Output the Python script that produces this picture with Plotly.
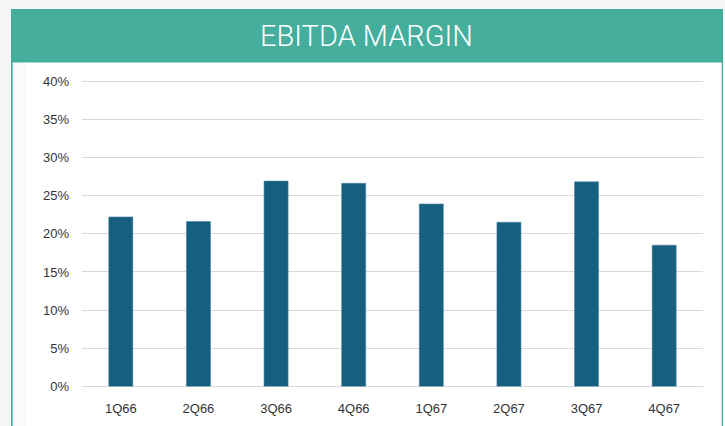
import plotly.graph_objects as go

categories = ["1Q66", "2Q66", "3Q66", "4Q66", "1Q67", "2Q67", "3Q67", "4Q67"]
margin_pct = [22.2, 21.6, 26.9, 26.6, 23.9, 21.5, 26.8, 18.5]
tick_vals = [0, 5, 10, 15, 20, 25, 30, 35, 40]
tick_text = ["0%", "5%", "10%", "15%", "20%", "25%", "30%", "35%", "40%"]
title_text = "EBITDA MARGIN"

W, H = 725, 426
TEAL = "#45ae9c"


def px(x):
    return x / W


def py(y):
    return 1 - y / H


fig = go.Figure()
fig.add_trace(go.Bar(
    x=categories, y=margin_pct, width=0.31,
    marker=dict(color="#175f7f", line=dict(color="#4a86a3", width=0.6)),
    hoverinfo="x+y",
))

ymax = 41.0
ppu = (386.5 - 81) / 40.0
y_bottom = 386.5
y_top = y_bottom - ymax * ppu

shapes = [
    dict(type="rect", xref="paper", yref="paper", x0=px(11), x1=px(723), y0=py(426), y1=py(9),
         fillcolor="white", line=dict(width=0), layer="below"),
    dict(type="rect", xref="paper", yref="paper", x0=px(12.7), x1=px(26), y0=py(426), y1=py(62),
         fillcolor="#f9fafb", line=dict(width=0), layer="below"),
    dict(type="rect", xref="paper", yref="paper", x0=px(11), x1=px(12.7), y0=py(426), y1=py(62),
         fillcolor=TEAL, line=dict(width=0), layer="below"),
    dict(type="rect", xref="paper", yref="paper", x0=px(721.7), x1=px(723), y0=py(426), y1=py(62),
         fillcolor=TEAL, line=dict(width=0), layer="below"),
    dict(type="rect", xref="paper", yref="paper", x0=px(11), x1=px(723), y0=py(62.5), y1=py(9),
         fillcolor=TEAL, line=dict(width=0), layer="below"),
]

fig.update_layout(
    width=W, height=H,
    margin=dict(l=0, r=0, t=0, b=0, autoexpand=False),
    paper_bgcolor="#f5f6f8",
    plot_bgcolor="rgba(0,0,0,0)",
    showlegend=False,
    bargap=0.69,
    shapes=shapes,
    annotations=[dict(
        text=title_text, xref="paper", yref="paper", x=px(366), y=py(35.5),
        xanchor="center", yanchor="middle", showarrow=False,
        font=dict(family="Roboto", size=29, color="white", weight=300),
    )],
    font=dict(family="Liberation Sans, Arial, sans-serif", size=13, color="#333333"),
    xaxis=dict(
        domain=[px(82), px(703)],
        automargin=False,
        showgrid=False, zeroline=False, showline=False, ticks="",
        ticklabelstandoff=12,
        tickfont=dict(size=13, color="#333333"),
    ),
    yaxis=dict(
        domain=[py(y_bottom), py(y_top)],
        automargin=False,
        range=[0, ymax],
        tickvals=tick_vals, ticktext=tick_text,
        showgrid=True, gridcolor="#d9d9d9", gridwidth=1.2,
        zeroline=True, zerolinecolor="#d9d9d9", zerolinewidth=1.2,
        showline=False, ticks="",
        ticklabelstandoff=12,
        tickfont=dict(size=13, color="#333333"),
    ),
)

fig.write_html("out.html")
